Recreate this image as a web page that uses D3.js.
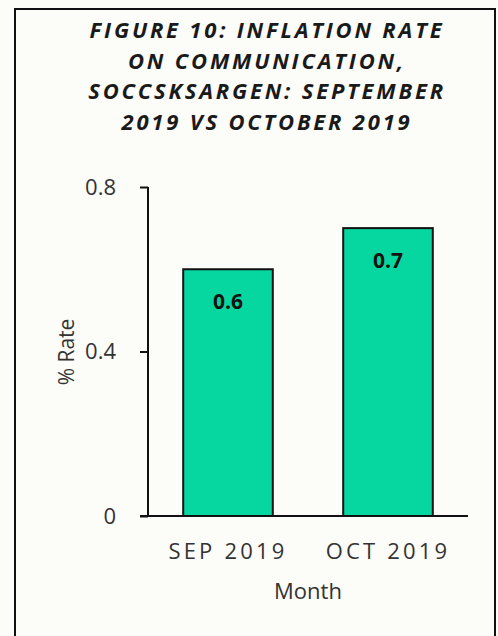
<!DOCTYPE html>
<html><head><meta charset="utf-8">
<script src="https://cdn.jsdelivr.net/npm/d3@7"></script>
<style>body{margin:0;background:#fcfcf8;}</style>
</head><body>
<svg id="c" width="498" height="636"></svg>
<script>
const categories = ["SEP 2019", "OCT 2019"];
const values = [0.6, 0.7];
const valueLabels = ["0.6", "0.7"];
const yTicks = [0, 0.4, 0.8];
const yTickLabels = ["0", "0.4", "0.8"];
const titleLines = ["FIGURE 10: INFLATION RATE", "ON COMMUNICATION,", "SOCCSKSARGEN: SEPTEMBER", "2019 VS OCTOBER 2019"];

const svg = d3.select("#c");
const font = "'Open Sans', 'DejaVu Sans', sans-serif";
svg.append("rect").attr("x",0).attr("y",0).attr("width",498).attr("height",636).attr("fill","#fcfcf8");
svg.append("rect").attr("x",15).attr("y",9).attr("width",480).attr("height",640)
  .attr("fill","none").attr("stroke","#111").attr("stroke-width",2);

svg.append("g").selectAll("text").data(titleLines).join("text")
  .attr("x",267).attr("y",(d,i)=>38+i*30.7).attr("text-anchor","middle")
  .attr("font-family",font).attr("font-weight","bold").attr("font-style","italic")
  .attr("font-size",22).attr("letter-spacing",2.8).attr("fill","#1a1a1a").text(d=>d);

const x = d3.scaleBand().domain(categories).range([148,468]).paddingInner(0.44).paddingOuter(0.22);
const y = d3.scaleLinear().domain([0,0.8]).range([516,187]);

svg.append("g").selectAll("rect").data(values).join("rect")
  .attr("x",(d,i)=>x(categories[i])).attr("width",x.bandwidth())
  .attr("y",d=>y(d)).attr("height",d=>y(0)-y(d))
  .attr("fill","#06d6a0").attr("stroke","#111").attr("stroke-width",2);

svg.append("g").selectAll("text").data(values).join("text")
  .attr("x",(d,i)=>x(categories[i])+x.bandwidth()/2).attr("y",d=>y(d)+40)
  .attr("text-anchor","middle").attr("font-family",font).attr("font-weight","bold")
  .attr("font-size",21).attr("fill","#111").text((d,i)=>valueLabels[i]);

const yAxis = svg.append("g").attr("transform","translate(148,0)")
  .call(d3.axisLeft(y).tickValues(yTicks).tickFormat((d,i)=>yTickLabels[i]).tickSize(8).tickPadding(24));
yAxis.select(".domain").attr("stroke","#111").attr("stroke-width",2).attr("d","M0,516V187");
yAxis.selectAll(".tick line").attr("stroke","#111").attr("stroke-width",2);
yAxis.selectAll(".tick text").attr("font-family",font).attr("font-size",22).attr("fill","#333");

const xAxis = svg.append("g").attr("transform","translate(0,516)")
  .call(d3.axisBottom(x).tickSize(0).tickPadding(27));
xAxis.select(".domain").attr("stroke","#111").attr("stroke-width",2).attr("d","M140,0H468");
xAxis.selectAll(".tick text").attr("font-family",font).attr("font-size",22)
  .attr("letter-spacing",3.2).attr("fill","#333");

svg.append("text").attr("x",308).attr("y",599).attr("text-anchor","middle")
  .attr("font-family",font).attr("font-size",22).attr("fill","#333").text("Month");
svg.append("text").attr("transform","translate(74,352) rotate(-90)").attr("text-anchor","middle")
  .attr("font-family",font).attr("font-size",21).attr("fill","#333").text("% Rate");
</script>
</body></html>
